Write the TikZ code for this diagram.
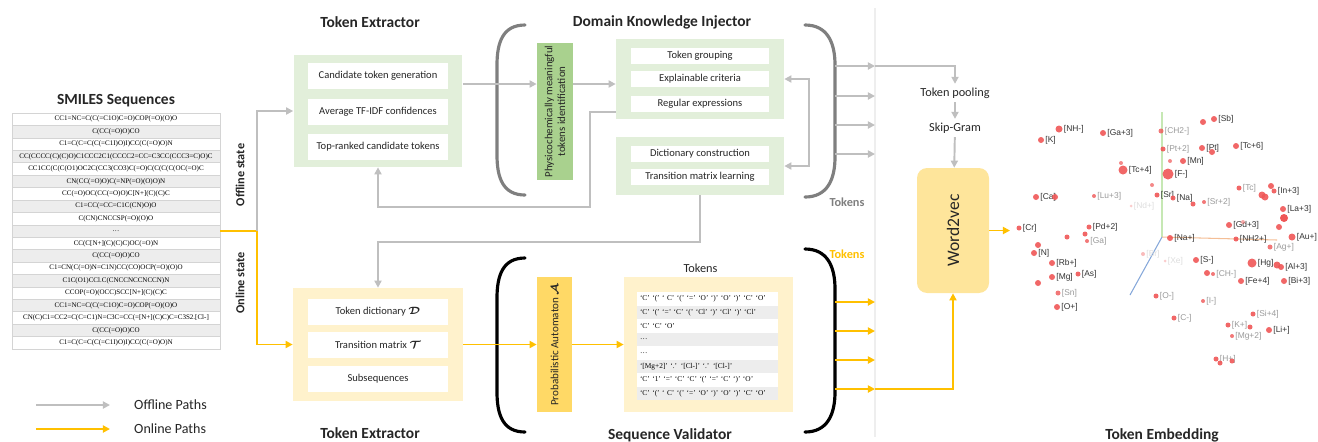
\documentclass[tikz,border=0pt]{standalone}
\usepackage{amsmath}
\usepackage{fontspec}
\setmainfont{Carlito}
\newfontfamily\smilesfam{Liberation Serif}
\newfontfamily\embfam{Liberation Sans}
\usetikzlibrary{arrows.meta,positioning}

\definecolor{arrgray}{HTML}{BFBFBF}
\definecolor{arrgold}{HTML}{FFC000}
\definecolor{brkgray}{HTML}{7F7F7F}
\definecolor{lgreen}{HTML}{E2EFDA}
\definecolor{mgreen}{HTML}{A9D18E}
\definecolor{lyellow}{HTML}{FFF2CC}
\definecolor{myellow}{HTML}{FFD966}
\definecolor{wyellow}{HTML}{FEE59B}
\definecolor{rowgray}{HTML}{EDEDED}
\definecolor{tabline}{HTML}{D4D4D4}
\definecolor{dotred}{HTML}{EF5656}
\definecolor{divline}{HTML}{EEEEEE}
\definecolor{lblk}{HTML}{333333}
\definecolor{lgry}{HTML}{9A9A9A}
\definecolor{llt}{HTML}{DDDDDD}
\definecolor{txt}{HTML}{262626}
\definecolor{axgreen}{HTML}{C6E8B4}
\definecolor{axorange}{HTML}{F4BE96}
\definecolor{axblue}{HTML}{86A8DA}

\newcommand\hdfont{\fontsize{8.8}{10}\selectfont\bfseries}
\newcommand\boxfont{\fontsize{6}{7}\selectfont}
\newcommand\smifont{\smilesfam\fontsize{4}{5}\selectfont}
\newcommand\tokfont{\smilesfam\fontsize{4.2}{5}\selectfont}
\newcommand\dotfont{\embfam\fontsize{4.8}{5.5}\selectfont}

\begin{document}
\begin{tikzpicture}[x=0.02cm,y=-0.02cm,>={Triangle[length=4pt,width=4pt]},
    offline/.style={draw=arrgray,line width=1.1pt},
    online/.style={draw=arrgold,line width=1.1pt},
    title/.style={font=\hdfont,text=txt},
    statelbl/.style={font=\fontsize{7}{8}\selectfont\bfseries,rotate=90,text=txt},
    smirow/.style={draw=tabline,line width=0.3pt,minimum width=4.16cm,minimum height=0.2484cm,inner sep=0pt,font=\smifont},
    greenbox/.style={fill=lgreen,minimum width=3.38cm,inner sep=0pt},
    yellowbox/.style={fill=lyellow,minimum width=3.4cm,inner sep=0pt},
    itembox/.style={fill=white,minimum width=2.8cm,minimum height=0.52cm,inner sep=0pt,font=\boxfont,text=txt},
    dkibox/.style={fill=white,minimum width=2.78cm,minimum height=0.32cm,inner sep=0pt,font=\boxfont,text=txt},
    tokrow/.style={text width=2.7cm,inner xsep=0.06cm,inner ysep=0pt,minimum height=0.27cm,align=left,font=\tokfont},
    plain/.style={font=\fontsize{7}{8}\selectfont,text=txt,inner sep=2pt},
    bracket/.style={line width=1.8pt,line cap=round}]

  \useasboundingbox (0,0) rectangle (1318,441);

  \node[title] (smititle) at (116,101) {SMILES Sequences};
  \foreach \s [count=\i] in {{CC1=NC=C(C(=C1O)C=O)COP(=O)(O)O},{C(CC(=O)O)CO},
      {C1=C(C=C(C(=C1I)O)I)CC(C(=O)O)N},{CC(CCCC(C)(C)O)C1CCC2C1(CCCC2=CC=C3CC(CCC3=C)O)C},
      {CC1CC(C(C(O1)OC2C(CC3(CO3)C(=O)C(C(C(C(OC(=O)C},{CN(CC(=O)O)C(=NP(=O)(O)O)N},
      {CC(=O)OC(CC(=O)O)C[N+](C)(C)C},{C1=CC(=CC=C1C(CN)O)O},{C(CN)CNCCSP(=O)(O)O},
      {\dots},{CC(C[N+](C)(C)C)OC(=O)N},{C(CC(=O)O)CO},
      {C1=CN(C(=O)N=C1N)CC(CO)OCP(=O)(O)O},{C1C(O1)CCl.C(CNCCNCCNCCN)N},
      {CCOP(=O)(OCC)SCC[N+](C)(C)C},{CC1=NC=C(C(=C1O)C=O)COP(=O)(O)O},
      {CN(C)C1=CC2=C(C=C1)N=C3C=CC(=[N+](C)C)C=C3S2.[Cl-]},{C(CC(=O)O)CO},
      {C1=C(C=C(C(=C1I)O)I)CC(C(=O)O)N}} {
    \ifodd\i\def\rc{white}\else\def\rc{rowgray}\fi
    \node[smirow,fill=\rc] (smi\i) at (116,{113+(\i-0.5)*12.42}) {\s};
  }

  \node[statelbl] (offst) at (240,175) {Offline state};
  \node[statelbl] (onst) at (240,283) {Online state};

  \node[title] (te1title) at (370,22) {Token Extractor};
  \node[greenbox,minimum height=2.24cm] (te1) at (378,111) {};
  \node[itembox] (cand) at (378,76) {Candidate token generation};
  \node[itembox] (tfidf) at (378,111.5) {Average TF-IDF confidences};
  \node[itembox] (topk) at (378,146.5) {Top-ranked candidate tokens};

  \node[title] (dkititle) at (662,22) {Domain Knowledge Injector};
  \node[fill=mgreen,minimum width=0.72cm,minimum height=2.74cm,inner sep=0pt] (phys) at (555,111.5) {};
  \node[rotate=90,align=center,font=\fontsize{6.2}{7.2}\selectfont,text=txt] (phystxt) at (phys)
    {Physicochemically meaningful\\tokens identification};
  \node[greenbox,minimum width=3.36cm,minimum height=1.6cm] (dki1) at (700,79) {};
  \node[dkibox] (group) at (700,55.5) {Token grouping};
  \node[dkibox] (crit) at (700,79) {Explainable criteria};
  \node[dkibox] (regex) at (700,103.5) {Regular expressions};
  \node[greenbox,minimum width=3.36cm,minimum height=1.16cm] (dki2) at (700,166) {};
  \node[dkibox] (dict) at (700,154) {Dictionary construction};
  \node[dkibox] (tmat) at (700,177) {Transition matrix learning};

  \draw[bracket,brkgray] (525,25) .. controls (503,25) and (497,42) .. (497,65) -- (497,155)
    .. controls (497,178) and (503,195) .. (525,195);
  \draw[bracket,brkgray] (805,25) .. controls (827,25) and (835,42) .. (835,65) -- (835,157)
    .. controls (835,180) and (827,197) .. (805,197);
  \node[font=\fontsize{7}{8}\selectfont\bfseries,text=brkgray] (gtok) at (847,202) {Tokens};

  \node[plain] (pool) at (955,93) {Token pooling};
  \node[plain] (skip) at (955,128) {Skip-Gram};
  \node[fill=wyellow,rounded corners=0.2cm,minimum width=1.44cm,minimum height=2.5cm,inner sep=0pt] (w2v) at (953,230.5) {};
  \node[rotate=90,font=\fontsize{10}{11}\selectfont,text=txt] (w2vtxt) at (w2v) {Word2vec};

  \node[title] (te2title) at (370,433) {Token Extractor};
  \node[yellowbox,minimum height=2.26cm] (te2) at (378,344.5) {};
  \node[itembox] (tdict) at (378,312) {Token dictionary $\boldsymbol{\mathcal{D}}$};
  \node[itembox] (ttmat) at (378,345) {Transition matrix $\boldsymbol{\mathcal{T}}$};
  \node[itembox] (subseq) at (378,379) {Subsequences};

  \node[title] (svtitle) at (670,435) {Sequence Validator};
  \node[fill=myellow,minimum width=0.7cm,minimum height=2.7cm,inner sep=0pt] (pa) at (554.5,344.5) {};
  \node[rotate=90,font=\fontsize{6.3}{7}\selectfont,text=txt] (patxt) at (pa) {Probabilistic Automaton $\boldsymbol{\mathcal{A}}$};
  \node[fill=lyellow,minimum width=3.38cm,minimum height=2.7cm,inner sep=0pt] (tok) at (708.5,344.5) {};
  \node[plain,above=0pt of tok,xshift=-0.16cm] (toklbl) {Tokens};
  \foreach \t [count=\i] in {{‘C’ ‘(’ ‘ C’ ‘(’ ‘=’ ‘O’ ‘)’ ‘O’ ‘)’ ‘C’ ‘O’},
      {‘C’ ‘(’ ‘=’ ‘C’ ‘(’ ‘Cl’ ‘)’ ‘Cl’ ‘)’ ‘Cl’},{‘C’ ‘C’ ‘O’},{\dots},{\dots},
      {‘[Mg+2]’ ‘.’ ‘[Cl-]’ ‘.’ ‘[Cl-]’},{‘C’ ‘1’ ‘=’ ‘C’ ‘C’ ‘(’ ‘=’ ‘C’ ‘)’ ‘O’},
      {‘C’ ‘(’ ‘ C’ ‘(’ ‘=’ ‘O’ ‘)’ ‘O’ ‘)’ ‘C’ ‘O’}} {
    \ifodd\i\def\rc{white}\else\def\rc{rowgray}\fi
    \node[tokrow,fill=\rc] (tk\i) at (707.5,{292+(\i-0.5)*13.5}) {\t};
  }

  \draw[bracket,black] (525,258) .. controls (503,258) and (497,275) .. (497,298) -- (497,392)
    .. controls (497,415) and (503,432) .. (525,432);
  \draw[bracket,black] (805,249) .. controls (827,249) and (835,266) .. (835,289) -- (835,392)
    .. controls (835,415) and (827,432) .. (805,432);
  \node[font=\fontsize{7}{8}\selectfont\bfseries,text=arrgold] (ytok) at (847,254) {Tokens};

  \path (smi10.east) ++(37,0) coordinate (split);
  \draw[online,->] (smi10.east) -- (split) |- (te2.west);
  \draw[offline,->] (split) |- (te1.west);
  \draw[online,->] (te2.east) -- (pa.west);
  \draw[online,->] (pa.east) -- (tok.west);

  \coordinate (r1) at (0,84);
  \draw[offline,->] (te1.east |- r1) -- (phys.west |- r1);
  \draw[offline,->] (phys.east |- r1) -- (dki1.west |- r1);
  \coordinate (fbA) at (590,112);
  \coordinate (fbB) at (590,207);
  \draw[offline,->] (dki1.west |- fbA) -- (fbA) -- (fbB) -| (te1.south);
  \coordinate (fbC) at (700,242);
  \draw[offline,->] (dki2.south) -- (fbC) -| (te2.north);
  \coordinate (fbD) at (809,123);
  \draw[offline,<->] (dki1.east) -| (fbD) |- (dki2.east);

  \draw[divline,line width=1.6pt] (875,8) -- (875,437);

  \foreach \yy [count=\i] in {66,96,125,154} {
    \coordinate (gout\i) at (835,\yy);
    \coordinate (gin\i) at (875,\yy);
    \draw[offline,->] (gout\i) -- (gin\i);
  }
  \draw[offline,->] (gin1) -| (pool.north);
  \draw[offline,->] (pool) -- (skip);
  \draw[offline,->] (skip) -- (w2v);

  \foreach \yy [count=\i] in {302,331,360,389} {
    \coordinate (yout\i) at (835,\yy);
    \coordinate (yin\i) at (875,\yy);
    \draw[online,->] (yout\i) -- (yin\i);
  }
  \draw[online,->] (yin4) -| (w2v.south);
  \coordinate (embin) at (1010,229);
  \draw[online,->] (w2v.east) -- (w2v.east -| embin);

  \draw[axgreen,line width=0.6pt] (1162,112) -- (1162,237);
  \draw[axorange,line width=0.6pt] (1162,237) -- (1277,240);
  \draw[axblue,line width=0.6pt] (1162,237) -- (1130,295);

  \foreach \px/\py/\r/\lab/\lc/\op [count=\i] in {
      1059/129/3.5/{[NH-]}/lblk/0.9, 1041/140/3/{[K]}/lblk/0.9, 1103/133/3/{[Ga+3]}/lblk/0.9,
      1161/131/2.5/{[CH2-]}/lgry/0.8, 1203/122/3/{}/lblk/0.9, 1214/119/3/{[Sb]}/lblk/0.9,
      1163/149/2.5/{[Pt+2]}/lgry/0.9, 1202/148/3/{[Pt]}/lblk/0.9, 1212/152/3/{}/lblk/0.9,
      1236/146/3/{[Tc+6]}/lblk/0.9, 1170/161/2/{}/lblk/0.7, 1183/161/3/{[Mn]}/lblk/0.9,
      1121/163/2/{}/lblk/0.7, 1123/170/4.5/{[Tc+4]}/lblk/0.9, 1168/174/5.5/{[F-]}/lblk/0.9,
      1152/185/2/{}/lblk/0.7, 1239/188/2.5/{[Tc]}/lgry/0.9, 1271/186/3/{}/lblk/0.9,
      1274/191/2.5/{[In+3]}/lblk/0.9, 1262/195/3.5/{}/lblk/0.9, 1265/197/3.5/{}/lblk/0.9,
      1036/197/3/{[Ca]}/lblk/0.9, 1055/197/3/{}/lblk/0.9, 1094/196/2/{[Lu+3]}/lgry/0.8,
      1157/195/2.5/{[Sr]}/lblk/0.9, 1173/198/2.5/{[Na]}/lblk/0.9, 1193/204/2.5/{}/lblk/0.9,
      1204/202/2/{[Sr+2]}/lgry/0.8, 1131/206/1.5/{[Nd+]}/llt/0.3, 1283/209/3/{[La+3]}/lblk/0.9,
      1284/218/4/{}/lblk/1, 1279/227/3/{}/lblk/0.9, 1019/228/2.5/{[Cr]}/lblk/0.9,
      1089/227/2.5/{[Pd+2]}/lblk/0.9, 1067/237/2.5/{}/lblk/0.9, 1085/234/2.5/{}/lblk/0.9,
      1087/241/2/{[Ga]}/lgry/0.8, 1229/225/3/{[Gd+3]}/lblk/0.9, 1243/222/2/{}/lblk/0.5,
      1170/238/3/{[Na+]}/lblk/0.9, 1236/239/2.5/{[NH2+]}/lblk/0.9, 1292/237/3.5/{[Au+]}/lblk/0.9,
      1270/247/2.5/{[Ag+]}/lgry/0.8, 1038/245/3/{}/lblk/0.9, 1034/253/3/{[N]}/lblk/0.9,
      1052/263/3/{[Rb+]}/lblk/0.9, 1143/254/2/{[Br]}/llt/0.4, 1165/261/1.5/{[Xe]}/llt/0.3,
      1196/260/3/{[S-]}/lblk/0.9, 1252/263/4.5/{[Hg]}/lblk/0.9, 1277/265/3.5/{}/lblk/0.9,
      1281/267/3/{[Al+3]}/lblk/0.9, 1052/277/3/{[Mg]}/lblk/0.9, 1038/283/3/{}/lblk/0.9,
      1078/274/2.5/{[As]}/lblk/0.9, 1058/293/2.5/{[Sn]}/lgry/0.8, 1057/307/3/{[O+]}/lblk/0.9,
      1156/296/2.5/{[O-]}/lgry/0.9, 1207/273/3/{}/lblk/0.9, 1213/274/2/{[CH-]}/lgry/0.8,
      1241/281/3/{[Fe+4]}/lblk/0.9, 1284/281/3/{[Bi+3]}/lblk/0.9, 1203/301/2/{[I-]}/lgry/0.8,
      1174/318/2.5/{[C-]}/lgry/0.9, 1253/314/2.5/{[Si+4]}/lgry/0.9, 1228/325/2.5/{[K+]}/lgry/0.9,
      1250/327/2.5/{}/lblk/0.9, 1232/336/2/{[Mg+2]}/lgry/0.8, 1269/330/3/{[Li+]}/lblk/0.9,
      1216/359/2.5/{[H+]}/lgry/0.9, 1220/363/2.5/{}/lblk/0.9, 1232/361/2.5/{}/lblk/0.9} {
    \fill[dotred,opacity=\op] (\px,\py) circle[radius={\r*0.2mm}];
    \node[anchor=west,inner sep=0.6pt,font=\dotfont,text=\lc] (emb\i) at (\px+\r,\py) {\lab};
  }

  \node[title] (embtitle) at (1162,435) {Token Embedding};

  \coordinate (lgA) at (36,405);
  \coordinate (lgB) at (110,405);
  \coordinate (lgC) at (36,429);
  \coordinate (lgD) at (110,429);
  \draw[offline,->] (lgA) -- (lgB);
  \draw[online,->] (lgC) -- (lgD);
  \node[anchor=west,font=\fontsize{8}{9}\selectfont,text=txt] (lgoff) at (128,405) {Offline Paths};
  \node[anchor=west,font=\fontsize{8}{9}\selectfont,text=txt] (lgon) at (128,429) {Online Paths};
\end{tikzpicture}
\end{document}
